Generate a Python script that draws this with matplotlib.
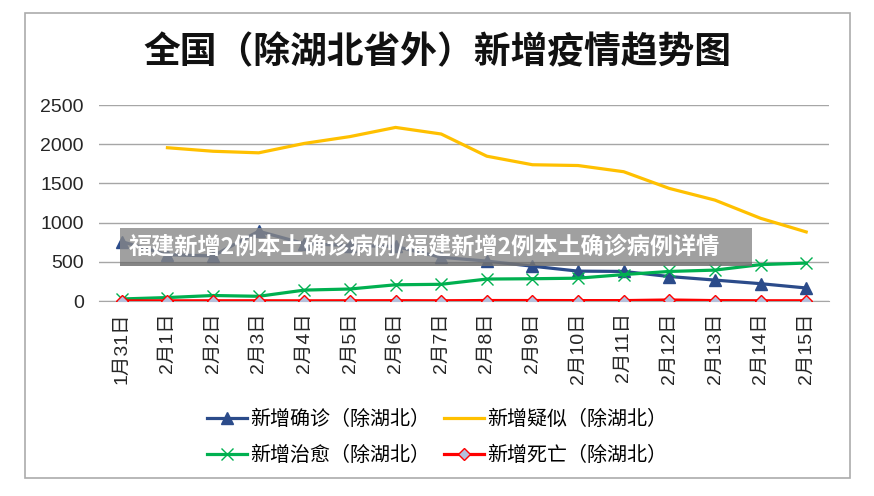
import matplotlib
matplotlib.use("Agg")
import matplotlib.pyplot as plt
from matplotlib.patches import Rectangle
import numpy as np

plt.rcParams['font.family'] = ['Noto Sans CJK SC', 'DejaVu Sans']

categories = ["1月31日", "2月1日", "2月2日", "2月3日", "2月4日", "2月5日", "2月6日", "2月7日",
              "2月8日", "2月9日", "2月10日", "2月11日", "2月12日", "2月13日", "2月14日", "2月15日"]
confirmed = [757, 590, 575, 890, 731, 707, 696, 558, 509, 444, 381, 377, 312, 267, 221, 166]
suspected = [np.nan, 1955, 1910, 1890, 2010, 2097, 2214, 2130, 1847, 1738, 1728, 1649, 1436, 1287, 1055, 881]
recovered = [26, 44, 70, 60, 139, 153, 207, 213, 280, 284, 291, 337, 377, 394, 464, 484]
deaths = [1, 2, 3, 3, 2, 3, 4, 3, 6, 6, 5, 5, 13, 5, 3, 3]

title = "全国（除湖北省外）新增疫情趋势图"
labels = ["新增确诊（除湖北）", "新增疑似（除湖北）", "新增治愈（除湖北）", "新增死亡（除湖北）"]
banner = "福建新增2例本土确诊病例/福建新增2例本土确诊病例详情"

W, H = 874, 496
fig = plt.figure(figsize=(W / 100, H / 100), dpi=100)
fig.patch.set_facecolor('white')

# chart border
fig.patches.append(Rectangle((25 / W, (H - 478) / H), 825 / W, 465 / H, transform=fig.transFigure,
                             facecolor='none', edgecolor='#ABABAB', linewidth=1.2))

ax = fig.add_axes([99 / W, 195 / H, 730 / W, 196 / H])
x = np.arange(len(categories))

l_conf, = ax.plot(x, confirmed, color='#2B4B8A', lw=2.3, marker='^', ms=8,
                  markerfacecolor='#2B4B8A', markeredgecolor='#2B4B8A', label=labels[0], zorder=4)
l_susp, = ax.plot(x, suspected, color='#FFC000', lw=2.3, label=labels[1], zorder=3)
l_rec, = ax.plot(x, recovered, color='#00B050', lw=2.3, marker='x', ms=8, mew=1.0,
                 markeredgecolor='#00B050', label=labels[2], zorder=4)
l_death, = ax.plot(x, deaths, color='#FF0000', lw=2.3, marker='D', ms=6.5, mew=1.0,
                   markerfacecolor='#B4C0DC', markeredgecolor='#FF0000', label=labels[3], zorder=5)

tick_family = ['Liberation Sans', 'Noto Sans CJK SC']
ax.set_xlim(-0.5, len(categories) - 0.5)
ax.set_ylim(0, 2500)
ax.set_yticks([0, 500, 1000, 1500, 2000, 2500])
ax.yaxis.grid(True, color='#A6A6A6', lw=1.0)
ax.set_axisbelow(True)
for s in ['top', 'right', 'left']:
    ax.spines[s].set_visible(False)
ax.spines['bottom'].set_color('#A6A6A6')
ax.set_xticks(x)
ax.set_xticklabels(categories, rotation=90, fontsize=14, color='#262626', family=tick_family)
ax.tick_params(axis='x', length=0, pad=8)
ax.tick_params(axis='y', length=0, pad=11, labelsize=14, labelcolor='#262626')
for lab in ax.get_yticklabels():
    lab.set_family(tick_family)

fig.text(0.5, (H - 53) / H, title, ha='center', va='center', fontsize=26.5, fontweight='bold',
         color='#111111')

handles = [l_conf, l_rec, l_susp, l_death]
fig.legend(handles, [h.get_label() for h in handles], ncol=2, loc='center',
           bbox_to_anchor=(0.5, (H - 437) / H), frameon=False, fontsize=14.4,
           handlelength=2.0, handletextpad=0.2, columnspacing=0.65, labelspacing=0.75)

# overlay banner
fig.patches.append(Rectangle((120 / W, (H - 266) / H), 632 / W, 38 / H, transform=fig.transFigure,
                             facecolor='#888888', alpha=0.8, edgecolor='none', zorder=10))
fig.patches.append(Rectangle((120 / W, (H - 266) / H), 632 / W, 4 / H, transform=fig.transFigure,
                             facecolor='#555555', alpha=0.35, edgecolor='none', zorder=10))
fig.text(129 / W, (H - 246) / H, banner, ha='left', va='center', fontsize=16.7, fontweight='bold',
         color='white', zorder=11)

fig.savefig('out.png', dpi=100)
